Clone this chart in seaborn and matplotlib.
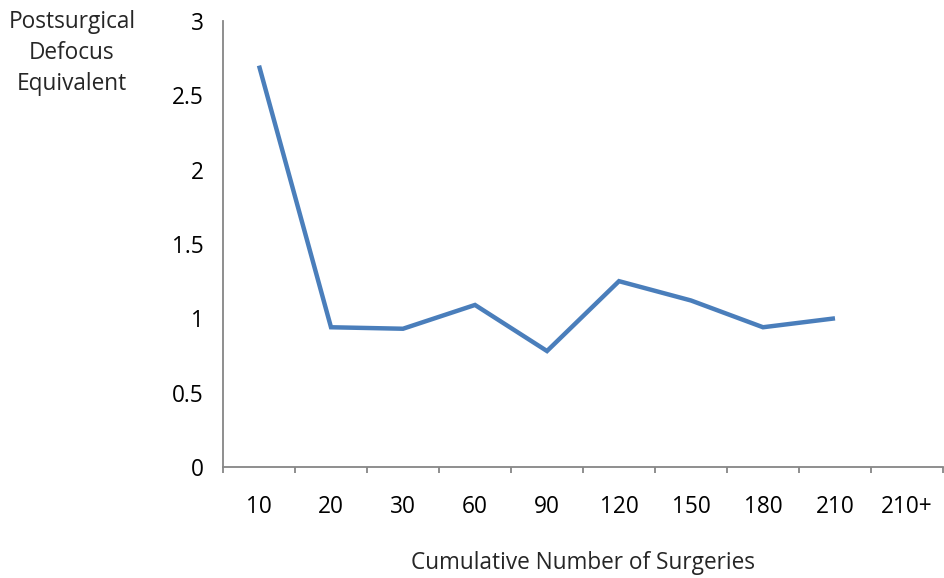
import matplotlib
matplotlib.use("Agg")
import matplotlib.pyplot as plt
import seaborn as sns
import numpy as np
import pandas as pd

categories = ["10", "20", "30", "60", "90", "120", "150", "180", "210", "210+"]
values = [2.70, 0.94, 0.93, 1.09, 0.78, 1.25, 1.12, 0.94, 1.00, np.nan]
y_ticks = [0, 0.5, 1, 1.5, 2, 2.5, 3]
y_ticklabels = ["0", "0.5", "1", "1.5", "2", "2.5", "3"]

sns.set_style("white")
plt.rcParams['font.family'] = ['Open Sans', 'DejaVu Sans']
FS = 16.3

df = pd.DataFrame({"pos": np.arange(len(categories)), "val": values})
df = df.dropna()

fig = plt.figure(figsize=(9.44, 5.78), dpi=100)
ax = fig.add_axes([223/944, (578-467)/578, (943-223)/944, (467-21)/578])

sns.lineplot(data=df, x="pos", y="val", ax=ax, color="#4a7ebb", linewidth=3.2,
             solid_capstyle="butt", solid_joinstyle="miter")

ax.set_xlim(-0.5, len(categories) - 0.5)
ax.set_ylim(0, 3)
ax.set_xticks(np.arange(len(categories)))
ax.set_xticklabels(categories, fontsize=FS, color="#000000")
ax.set_xticks(np.arange(len(categories) + 1) - 0.5, minor=True)
ax.tick_params(axis="x", which="major", length=0, pad=20)
ax.tick_params(axis="x", which="minor", length=4, width=1.3, color="#868686", direction="out")
ax.set_yticks(y_ticks)
ax.set_yticklabels(y_ticklabels, fontsize=FS, color="#000000")
ax.tick_params(axis="y", which="major", length=8, width=1.3, color="#868686", direction="out", pad=6)
ax.tick_params(axis="x", which="minor", bottom=True)

for s in ["top", "right"]:
    ax.spines[s].set_visible(False)
for s in ["left", "bottom"]:
    ax.spines[s].set_color("#868686")
    ax.spines[s].set_linewidth(1.3)

ax.set_xlabel("")
ax.set_ylabel("")
ax.grid(False)

fig.text(583/944, 1 - 563/578, "Cumulative Number of Surgeries", ha="center", va="center", fontsize=FS)
fig.text(72/944, 1 - 53/578, "Postsurgical\nDefocus\nEquivalent", ha="center", va="center",
         fontsize=FS, linespacing=1.4)

fig.savefig("out.png", dpi=100, facecolor="white")
